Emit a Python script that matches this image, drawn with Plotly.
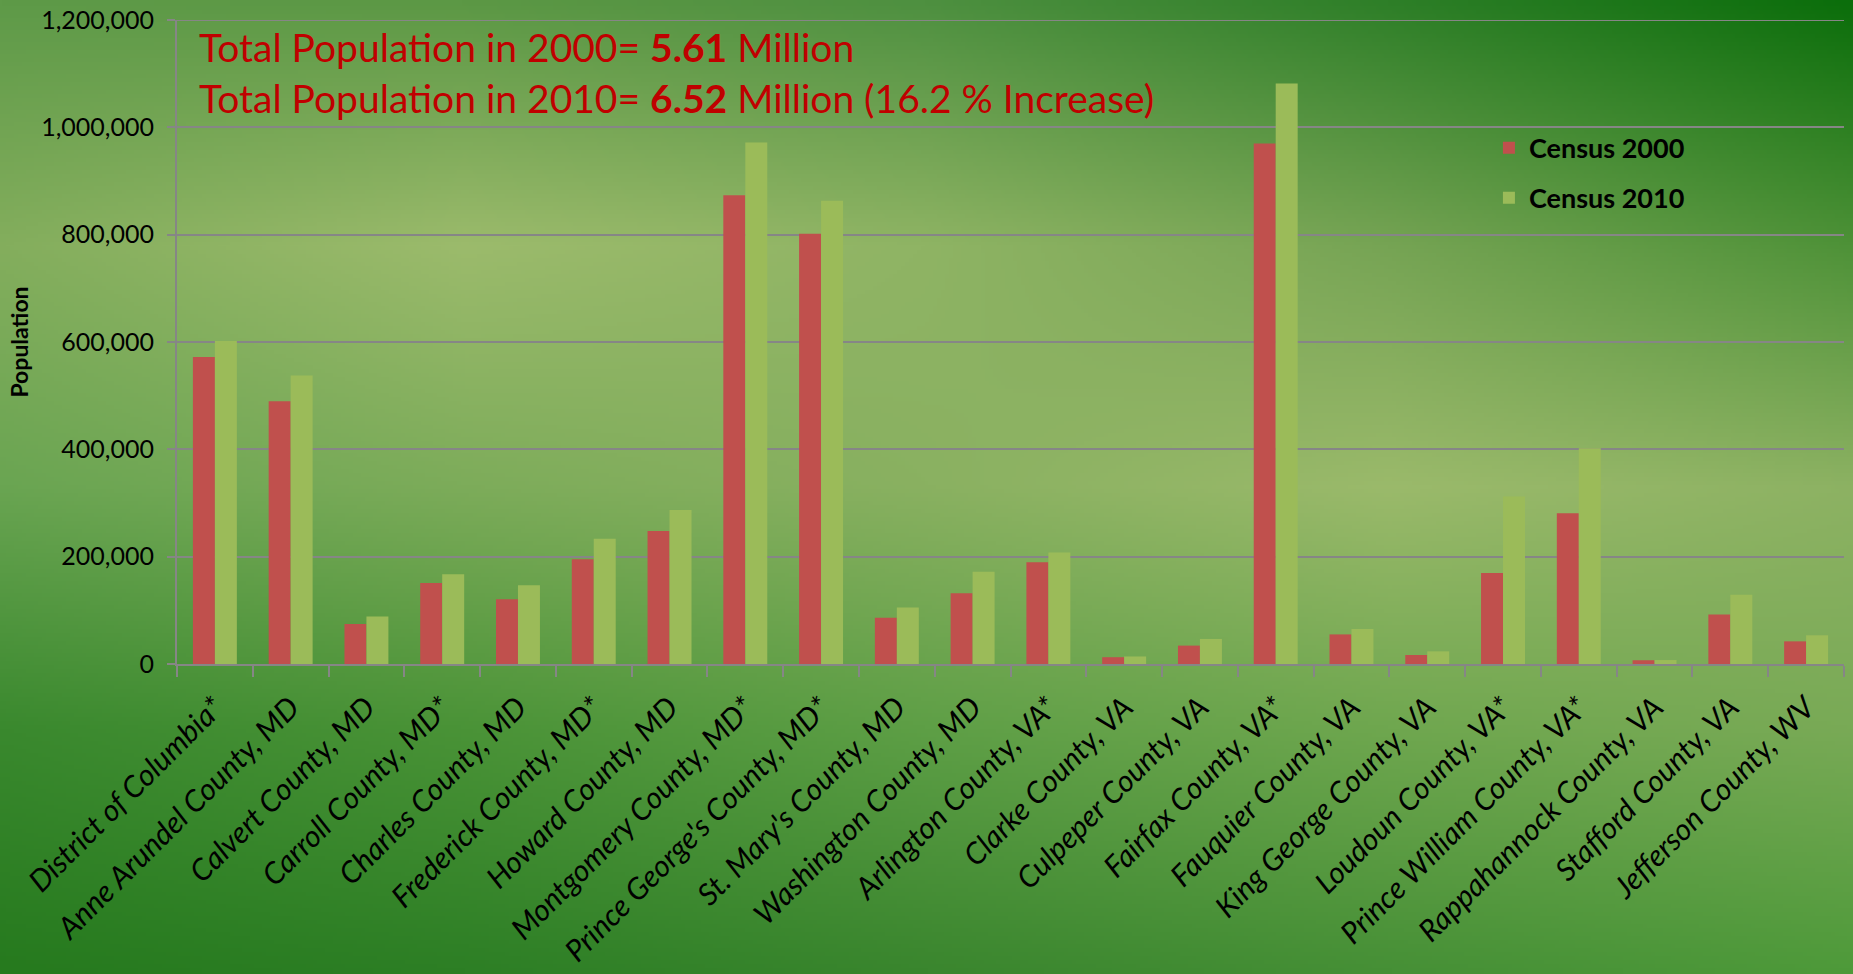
import zlib, struct, base64
import numpy as np
import plotly.graph_objects as go

# ---------------- data ----------------
counties = [
    "District of Columbia*", "Anne Arundel County, MD", "Calvert County, MD",
    "Carroll County, MD*", "Charles County, MD", "Frederick County, MD*",
    "Howard County, MD", "Montgomery County, MD*", "Prince George's County, MD*",
    "St. Mary's County, MD", "Washington County, MD", "Arlington County, VA*",
    "Clarke County, VA", "Culpeper County, VA", "Fairfax County, VA*",
    "Fauquier County, VA", "King George County, VA", "Loudoun County, VA*",
    "Prince William County, VA*", "Rappahannock County, VA", "Stafford County, VA",
    "Jefferson County, WV",
]
census_2000 = [572059, 489656, 74563, 150897, 120546, 195277, 247842, 873341,
               801515, 86211, 131923, 189453, 12652, 34262, 969749, 55139,
               16803, 169599, 280813, 6983, 92446, 42190]
census_2010 = [601723, 537656, 88737, 167134, 146551, 233385, 287085, 971777,
               863420, 105151, 172000, 207627, 14034, 46689, 1081726, 65203,
               23584, 312311, 402002, 7373, 128961, 53498]
series_names = ["Census 2000", "Census 2010"]
y_ticks = [0, 200000, 400000, 600000, 800000, 1000000, 1200000]
y_tick_labels = ["0", "200,000", "400,000", "600,000", "800,000", "1,000,000", "1,200,000"]
headline_1 = "Total Population in 2000= <b>5.61</b> Million"
headline_2 = "Total Population in 2010= <b>6.52</b> Million (16.2 % Increase)"

# ---------------- layout constants ----------------
W, H = 1853, 974
ML, MR, MT, MB = 177, 9, 20, 310
PW, PH = W - ML - MR, H - MT - MB
FONT = "Lato"
RED, GREEN = "#C0504D", "#9BBB59"
GRID = "#868686"

# ---------------- background gradient image ----------------
bg_grid = [
    ["#5E9A48", "#5C9845", "#4E9040", "#2E7F28", "#0B6E0B"],
    ["#84AE5D", "#9CBB6C", "#8FB464", "#76A454", "#4E9238"],
    ["#6AA552", "#7DAC5A", "#8AB161", "#9BBA6B", "#8DB263"],
    ["#3A892E", "#4A9337", "#5E9F46", "#6FA74F", "#79AA56"],
    ["#267A1E", "#2D7F25", "#3A862E", "#469036", "#4E9A3A"],
]
g = np.array([[[int(c[i:i + 2], 16) for i in (1, 3, 5)] for c in row] for row in bg_grid], float)
iw, ih = 464, 244
ys = np.linspace(0, g.shape[0] - 1, ih)
xs = np.linspace(0, g.shape[1] - 1, iw)
y0 = np.clip(np.floor(ys).astype(int), 0, g.shape[0] - 2); fy = (ys - y0)[:, None, None]
x0 = np.clip(np.floor(xs).astype(int), 0, g.shape[1] - 2); fx = (xs - x0)[None, :, None]
top = g[y0][:, x0] * (1 - fx) + g[y0][:, x0 + 1] * fx
bot = g[y0 + 1][:, x0] * (1 - fx) + g[y0 + 1][:, x0 + 1] * fx
img = np.clip(top * (1 - fy) + bot * fy, 0, 255).astype(np.uint8)


def to_png(arr):
    h, w, _ = arr.shape
    raw = b"".join(b"\x00" + arr[i].tobytes() for i in range(h))

    def chunk(t, d):
        return struct.pack(">I", len(d)) + t + d + struct.pack(">I", zlib.crc32(t + d) & 0xFFFFFFFF)

    return (b"\x89PNG\r\n\x1a\n" + chunk(b"IHDR", struct.pack(">IIBBBBB", w, h, 8, 2, 0, 0, 0))
            + chunk(b"IDAT", zlib.compress(raw, 9)) + chunk(b"IEND", b""))


bg_src = "data:image/png;base64," + base64.b64encode(to_png(img)).decode()

# ---------------- figure ----------------
fig = go.Figure()
fig.add_trace(go.Bar(x=counties, y=census_2000, name=series_names[0], marker_color=RED,
                     marker_line_width=0, legendgroup="a"))
fig.add_trace(go.Bar(x=counties, y=census_2010, name=series_names[1], marker_color=GREEN,
                     marker_line_width=0, legendgroup="b"))

fig.update_layout(
    width=W, height=H,
    margin=dict(l=ML, r=MR, t=MT, b=MB, pad=0, autoexpand=False),
    paper_bgcolor="#5E9A48", plot_bgcolor="rgba(0,0,0,0)",
    font=dict(family=FONT, color="black"),
    barmode="group", bargap=0.42, bargroupgap=0,
    images=[dict(source=bg_src, xref="paper", yref="paper",
                 x=-ML / PW, y=1 + MT / PH, sizex=W / PW, sizey=H / PH,
                 xanchor="left", yanchor="top", sizing="stretch", layer="below")],
    shapes=[dict(type="line", xref="paper", yref="y", x0=0, x1=1,
                 y0=y_ticks[-1], y1=y_ticks[-1], layer="below",
                 line=dict(color=GRID, width=2))],
    legend=dict(x=0.787, y=0.839, xanchor="left", yanchor="top",
                bgcolor="rgba(0,0,0,0)", traceorder="grouped", tracegroupgap=12,
                font=dict(family=FONT, size=27, weight="bold", color="black")),
    xaxis=dict(type="category", tickangle=-45, tickson="boundaries", ticks="outside",
               ticklen=11, tickwidth=2, tickcolor=GRID, showline=True, linecolor=GRID,
               linewidth=2, showgrid=False, ticklabelstandoff=12, automargin=False,
               tickfont=dict(family=FONT, size=30, style="italic", color="black")),
    yaxis=dict(range=[0, 1200000], tickvals=y_ticks, ticktext=y_tick_labels,
               ticks="outside", ticklen=8, tickwidth=2, tickcolor=GRID,
               showline=True, linecolor=GRID, linewidth=2,
               showgrid=True, gridcolor=GRID, gridwidth=2, zeroline=False,
               ticklabelstandoff=8, automargin=False,
               tickfont=dict(family=FONT, size=25, color="black"),
               title=dict(text="Population", standoff=6,
                          font=dict(family=FONT, size=23, weight="bold", color="black"))),
    annotations=[
        dict(text=headline_1, xref="paper", yref="paper", x=0.012, y=1 - 27 / PH,
             xanchor="left", yanchor="middle", showarrow=False,
             font=dict(family=FONT, size=39, color="#C00000")),
        dict(text=headline_2, xref="paper", yref="paper", x=0.012, y=1 - 78 / PH,
             xanchor="left", yanchor="middle", showarrow=False,
             font=dict(family=FONT, size=39, color="#C00000")),
    ],
)

fig.write_html("out.html", config={"displayModeBar": False},
               post_script="document.body.style.margin='0';document.body.style.overflow='hidden';")
